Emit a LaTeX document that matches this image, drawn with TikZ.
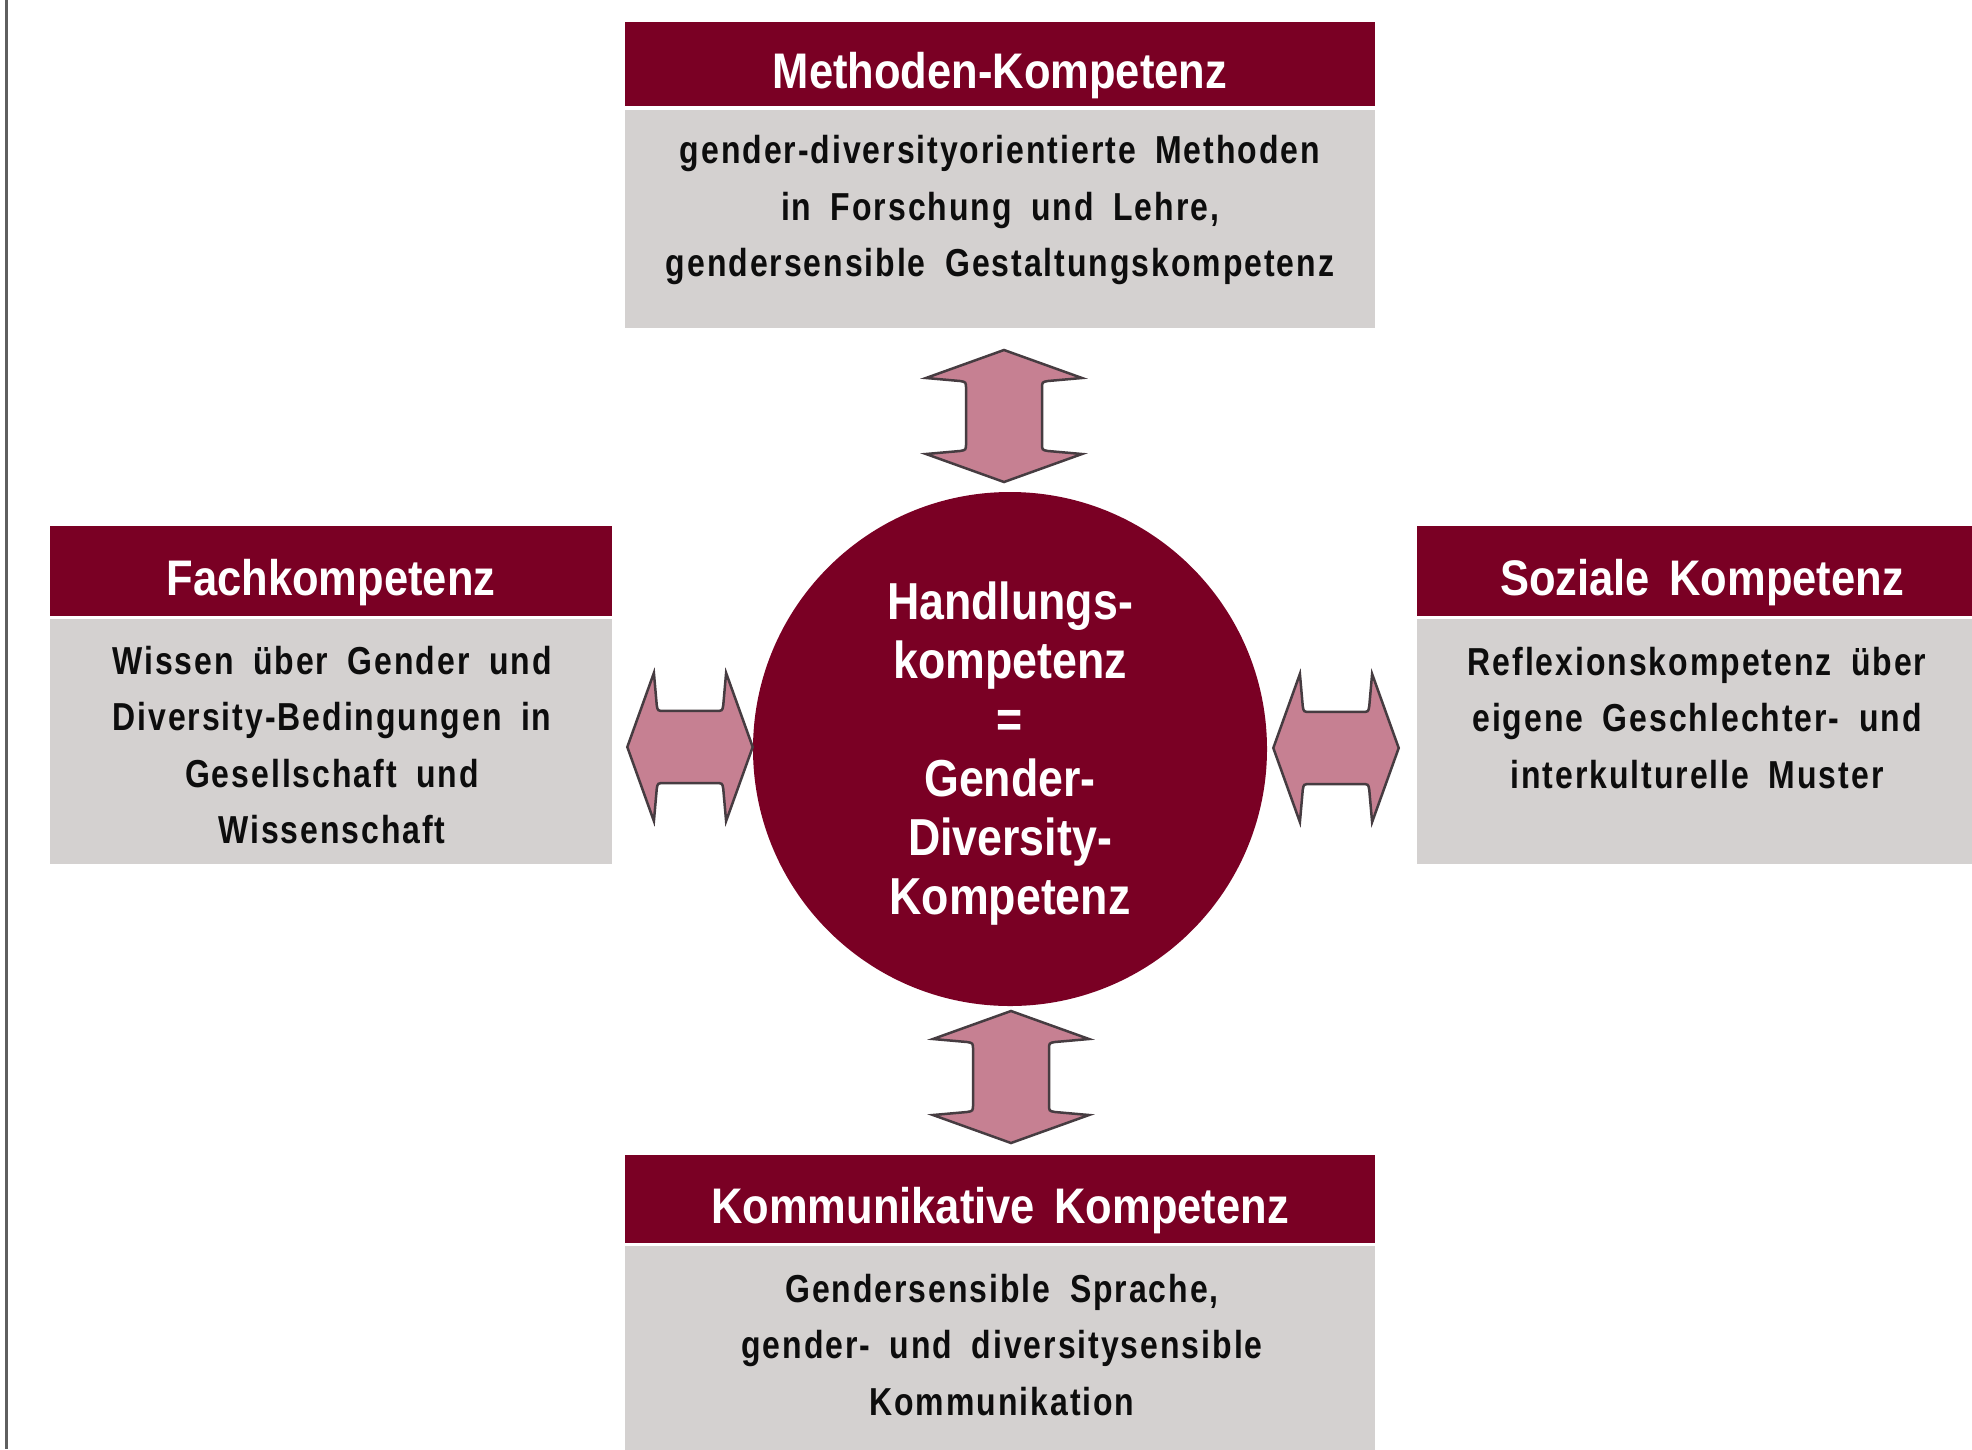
\documentclass[tikz,border=0pt]{standalone}
\usepackage{fontspec}
\setmainfont{Liberation Sans}
\newfontfamily\hdrfont{Liberation Sans}[FakeStretch=0.87,WordSpace=1.6]
\newfontfamily\corefont{Liberation Sans}[FakeStretch=0.86,WordSpace=1.6]
\newfontfamily\txtfont{Liberation Sans}[FakeStretch=0.82,WordSpace=1.8,LetterSpace=5]
\definecolor{maroon}{RGB}{122,0,36}
\definecolor{boxgray}{RGB}{212,209,208}
\definecolor{arrowpink}{RGB}{198,128,146}
\definecolor{arrowline}{RGB}{70,60,65}
\definecolor{frameline}{RGB}{95,95,95}
\tikzset{
  hdr/.style={rectangle, fill=maroon, text=white, inner sep=0,
    text height=49, text depth=0,
    font=\hdrfont\bfseries\fontsize{50}{56}\selectfont},
  bodybox/.style={rectangle, fill=boxgray, inner sep=0},
  bodytext/.style={align=center, text=black!95, inner sep=0,
    font=\txtfont\bfseries\fontsize{39}{56.5}\selectfont},
  core/.style={circle, fill=maroon, text=white, align=center, inner sep=0,
    minimum size=514, font=\corefont\bfseries\fontsize{52}{59}\selectfont},
  arrowshape/.style={fill=arrowpink, draw=arrowline, line width=2.5, line join=miter},
  dblarrow/.pic={
    \path[arrowshape] (0,-66) -- (78,-38) -- (44,-35) .. controls (38,-34) .. (38,-27)
      -- (38,27) .. controls (38,34) .. (44,35) -- (78,38) -- (0,66) -- (-78,38)
      -- (-44,35) .. controls (-38,34) .. (-38,27) -- (-38,-27)
      .. controls (-38,-34) .. (-44,-35) -- (-78,-38) -- cycle;
  }
}
\begin{document}
\begin{tikzpicture}[x=1pt,y=-1pt]
\useasboundingbox (0,0) rectangle (1972,1449);
\clip (0,0) rectangle (1972,1449);
\fill[white] (0,0) rectangle (1972,1449);
\draw[frameline, line width=3] (6,0) -- (6,1449);

% top box
\node[hdr, minimum width=750, minimum height=84] (mhdr) at (1000,64) {Methoden-Kompetenz};
\node[bodybox, minimum width=750, minimum height=218] (mbody) at (1000,219) {};
\node[bodytext] (mtext) at (1000,210) {gender-diversityorientierte Methoden\\in Forschung und Lehre,\\gendersensible Gestaltungskompetenz};

% left box
\node[hdr, minimum width=562, minimum height=90] (fhdr) at (331,571) {Fachkompetenz};
\node[bodybox, minimum width=562, minimum height=245] (fbody) at (331,741.5) {};
\node[bodytext] (ftext) at (332,745) {Wissen über Gender und\\Diversity-Bedingungen in\\Gesellschaft und\\Wissenschaft};

% right box
\node[hdr, minimum width=570, minimum height=90] (shdr) at (1702,571) {Soziale Kompetenz};
\node[bodybox, minimum width=570, minimum height=245] (sbody) at (1702,741.5) {};
\node[bodytext] (stext) at (1697,718) {Reflexionskompetenz über\\eigene Geschlechter- und\\interkulturelle Muster};

% bottom box
\node[hdr, minimum width=750, minimum height=88] (khdr) at (1000,1199) {Kommunikative Kompetenz};
\node[bodybox, minimum width=750, minimum height=230] (kbody) at (1000,1361) {};
\node[bodytext] (ktext) at (1002,1345) {Gendersensible Sprache,\\gender- und diversitysensible\\Kommunikation};

% centre
\node[core] (core) at (1010,749) {};
\node[core, fill=none, minimum size=0] (coretext) at (1010,754) {Handlungs-\\kompetenz\\=\\Gender-\\Diversity-\\Kompetenz};

% arrows
\pic at (1004,416) {dblarrow};
\pic at (1011,1077) {dblarrow};
\pic[rotate=90, scale=0.95] at (690,747) {dblarrow};
\pic[rotate=90, scale=0.95] at (1336,748) {dblarrow};
\end{tikzpicture}
\end{document}
